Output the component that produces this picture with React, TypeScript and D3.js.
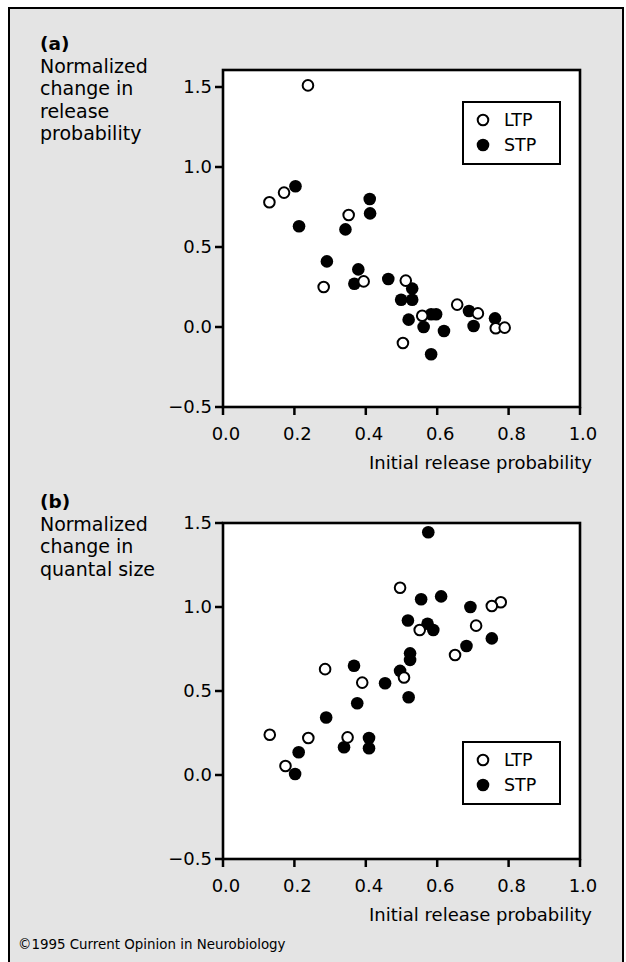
import React from "react";
import * as d3 from "d3";

// ---------- data ----------
const xTicks = [0, 0.2, 0.4, 0.6, 0.8, 1.0];
const yTicks = [-0.5, 0, 0.5, 1.0, 1.5];

// Panel (a): normalized change in release probability
const aLTP: [number, number][] = [
  [0.238, 1.51], [0.171, 0.84], [0.13, 0.78], [0.352, 0.70], [0.394, 0.285],
  [0.282, 0.25], [0.512, 0.29], [0.504, -0.10], [0.558, 0.07], [0.656, 0.14],
  [0.714, 0.085], [0.764, -0.008], [0.789, -0.004],
];
const aSTP: [number, number][] = [
  [0.203, 0.88], [0.411, 0.80], [0.412, 0.71], [0.213, 0.63], [0.343, 0.61],
  [0.291, 0.41], [0.379, 0.36], [0.368, 0.27], [0.463, 0.30], [0.499, 0.17],
  [0.53, 0.24], [0.53, 0.17], [0.52, 0.046], [0.583, 0.08], [0.597, 0.08],
  [0.562, 0.0], [0.619, -0.025], [0.583, -0.17], [0.689, 0.10], [0.702, 0.006],
  [0.762, 0.054],
];

// Panel (b): normalized change in quantal size
const bLTP: [number, number][] = [
  [0.496, 1.115], [0.778, 1.028], [0.753, 1.006], [0.709, 0.889], [0.551, 0.863],
  [0.65, 0.714], [0.286, 0.63], [0.507, 0.58], [0.39, 0.55], [0.131, 0.24],
  [0.239, 0.22], [0.349, 0.224], [0.175, 0.054],
];
const bSTP: [number, number][] = [
  [0.575, 1.445], [0.555, 1.046], [0.611, 1.063], [0.693, 1.0], [0.518, 0.92],
  [0.573, 0.90], [0.589, 0.863], [0.753, 0.813], [0.682, 0.768], [0.524, 0.724],
  [0.524, 0.685], [0.367, 0.65], [0.496, 0.62], [0.454, 0.546], [0.52, 0.463],
  [0.376, 0.427], [0.289, 0.342], [0.409, 0.22], [0.409, 0.159], [0.339, 0.165],
  [0.212, 0.135], [0.202, 0.006],
];

const seriesNames = ["LTP", "STP"];
const xTitle = "Initial release probability";
const aTitle = ["Normalized", "change in", "release", "probability"];
const bTitle = ["Normalized", "change in", "quantal size"];

const FONT = "'DejaVu Sans', 'Open Sans', sans-serif";

type PanelProps = {
  top: number;
  y15: number;
  yM05: number;
  ltp: [number, number][];
  stp: [number, number][];
  legendY: number;
  label: string;
  titleLines: string[];
  labelY: number;
};

const X0 = 223, X1 = 580;
const R = 6.3;

function Panel(p: PanelProps) {
  const x = d3.scaleLinear().domain([0, 1]).range([X0, X1]);
  const y = d3.scaleLinear().domain([-0.5, 1.5]).range([p.yM05, p.y15]);
  const bottom = p.yM05;
  const fmt = d3.format(".1f");
  const lineGap = 22.5;
  return (
    <g>
      <text x={40} y={p.labelY} fontSize={18.5} fontWeight="bold" fontFamily={FONT}>{p.label}</text>
      {p.titleLines.map((t, i) => (
        <text key={t} x={40} y={p.labelY + lineGap * (i + 1)} fontSize={19} fontFamily={FONT}>{t}</text>
      ))}
      <rect x={X0} y={p.top} width={X1 - X0} height={bottom - p.top} fill="#fff" stroke="#000" strokeWidth={2.6} />
      {yTicks.map((t) => (
        <g key={"y" + t}>
          <line x1={X0 - 8} x2={X0} y1={y(t)} y2={y(t)} stroke="#000" strokeWidth={2.5} />
          <text x={X0 - 11} y={y(t)} dy="0.36em" textAnchor="end" fontSize={18} fontFamily={FONT}>
            {t < 0 ? "\u2212" + fmt(-t) : fmt(t)}
          </text>
        </g>
      ))}
      {xTicks.map((t) => (
        <g key={"x" + t}>
          <line x1={x(t)} x2={x(t)} y1={bottom} y2={bottom + 8} stroke="#000" strokeWidth={2.5} />
          <text x={x(t) + 3} y={bottom + 33} textAnchor="middle" fontSize={18} fontFamily={FONT}>{fmt(t)}</text>
        </g>
      ))}
      <text x={592} y={bottom + 62} textAnchor="end" fontSize={18} fontFamily={FONT}>{xTitle}</text>
      {p.stp.map((d, i) => (
        <circle key={"s" + i} cx={x(d[0])} cy={y(d[1])} r={R} fill="#000" />
      ))}
      {p.ltp.map((d, i) => (
        <circle key={"l" + i} cx={x(d[0])} cy={y(d[1])} r={R - 1} fill="#fff" stroke="#000" strokeWidth={2} />
      ))}
      <g transform={`translate(463, ${p.legendY})`}>
        <rect x={0} y={0} width={97} height={62} fill="#fff" stroke="#000" strokeWidth={2} />
        <circle cx={20} cy={18} r={R - 1} fill="#fff" stroke="#000" strokeWidth={2} />
        <text x={41} y={18} dy="0.36em" fontSize={17.5} fontFamily={FONT}>{seriesNames[0]}</text>
        <circle cx={20} cy={43} r={R} fill="#000" />
        <text x={41} y={43} dy="0.36em" fontSize={17.5} fontFamily={FONT}>{seriesNames[1]}</text>
      </g>
    </g>
  );
}

export default function App() {
  return (
    <svg width={626} height={962} style={{ position: "absolute", left: 0, top: 0 }}>
      <rect x={0} y={0} width={626} height={962} fill="#fff" />
      <rect x={9} y={8} width={614} height={970} fill="#e4e4e4" stroke="#000" strokeWidth={2} />
      <Panel top={70} y15={87} yM05={407} ltp={aLTP} stp={aSTP} legendY={102}
        label="(a)" titleLines={aTitle} labelY={50} />
      <Panel top={523} y15={523} yM05={859} ltp={bLTP} stp={bSTP} legendY={742}
        label="(b)" titleLines={bTitle} labelY={508} />
      <text x={18} y={949} fontSize={13.4} fontFamily={FONT}>©1995 Current Opinion in Neurobiology</text>
    </svg>
  );
}
